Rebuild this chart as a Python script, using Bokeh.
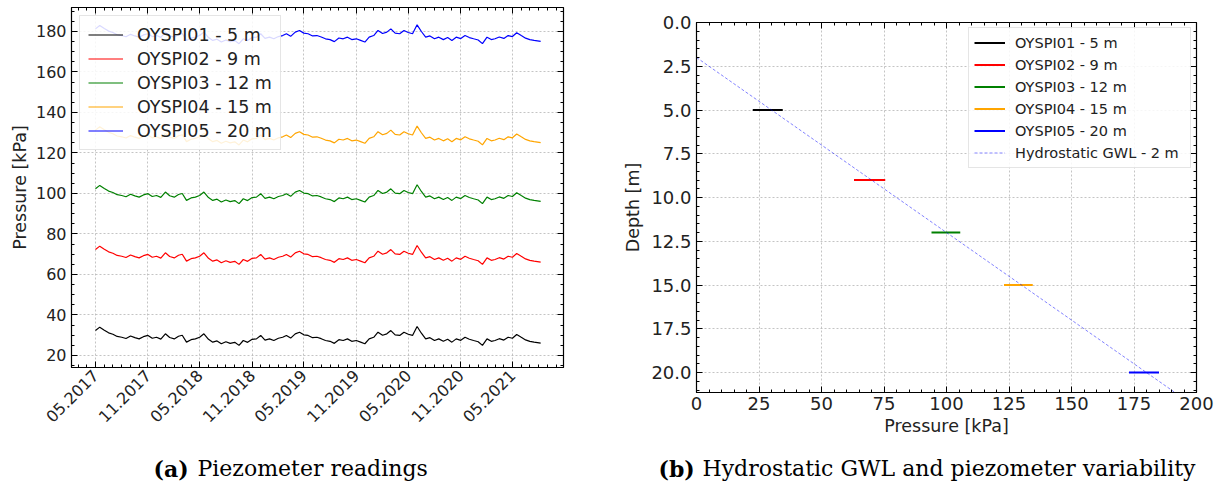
import math
from datetime import datetime
from bokeh.plotting import figure
from bokeh.models import (Range1d, FixedTicker, DatetimeTickFormatter, LinearAxis,
                          Label, PrintfTickFormatter)
from bokeh.layouts import row, column
from bokeh.embed import file_html
from bokeh.resources import INLINE

# ---------------- data ----------------
# semi-monthly readings (1st and 16th of each month), May 2017 - Aug 2021
sample_dates = []
for k in range(51):
    yy = 2017 + (4 + k) // 12
    mm = (4 + k) % 12 + 1
    sample_dates.append(datetime(yy, mm, 1))
    sample_dates.append(datetime(yy, mm, 16))
sample_dates.append(datetime(2021, 8, 8))

oyspi01 = [32.3, 34.0, 32.5, 31.2, 30.5, 29.4, 29.0, 28.4, 29.6, 28.8, 28.2, 29.3, 29.9, 28.5,
           29.0, 28.1, 30.7, 28.9, 28.2, 29.5, 30.0, 26.6, 27.8, 28.2, 29.0, 30.7, 28.0, 26.6,
           27.2, 25.8, 26.8, 26.0, 26.5, 25.0, 27.4, 26.5, 28.0, 28.2, 29.9, 27.6, 28.2, 27.4,
           28.5, 29.0, 29.9, 28.6, 30.7, 31.5, 30.2, 29.9, 28.8, 29.0, 28.3, 27.4, 27.0, 26.0,
           27.8, 27.4, 28.2, 27.0, 27.4, 26.6, 25.8, 28.2, 29.0, 31.5, 30.0, 30.7, 32.3, 30.2,
           29.9, 31.5, 30.5, 29.9, 34.3, 31.0, 28.2, 28.8, 27.4, 28.2, 27.0, 28.0, 26.6, 28.2,
           27.5, 29.0, 28.0, 27.4, 26.8, 25.0, 28.2, 27.0, 27.4, 28.3, 27.6, 29.0, 28.5, 30.4,
           29.0, 27.7, 27.0, 26.6, 26.1]
oyspi02 = [72.3, 74.0, 72.5, 71.2, 70.5, 69.4, 69.0, 68.4, 69.6, 68.8, 68.2, 69.3, 69.9, 68.5,
           69.0, 68.1, 70.7, 68.9, 68.2, 69.5, 70.0, 66.6, 67.8, 68.2, 69.0, 70.7, 68.0, 66.6,
           67.2, 65.8, 66.8, 66.0, 66.5, 65.0, 67.4, 66.5, 68.0, 68.2, 69.9, 67.6, 68.2, 67.4,
           68.5, 69.0, 69.9, 68.6, 70.7, 71.5, 70.2, 69.9, 68.8, 69.0, 68.3, 67.4, 67.0, 66.0,
           67.8, 67.4, 68.2, 67.0, 67.4, 66.6, 65.8, 68.2, 69.0, 71.5, 70.0, 70.7, 72.3, 70.2,
           69.9, 71.5, 70.5, 69.9, 74.3, 71.0, 68.2, 68.8, 67.4, 68.2, 67.0, 68.0, 66.6, 68.2,
           67.5, 69.0, 68.0, 67.4, 66.8, 65.0, 68.2, 67.0, 67.4, 68.3, 67.6, 69.0, 68.5, 70.4,
           69.0, 67.7, 67.0, 66.6, 66.1]
oyspi03 = [102.3, 104.0, 102.5, 101.2, 100.5, 99.4, 99.0, 98.4, 99.6, 98.8, 98.2, 99.3, 99.9, 98.5,
           99.0, 98.1, 100.7, 98.9, 98.2, 99.5, 100.0, 96.6, 97.8, 98.2, 99.0, 100.7, 98.0, 96.6,
           97.2, 95.8, 96.8, 96.0, 96.5, 95.0, 97.4, 96.5, 98.0, 98.2, 99.9, 97.6, 98.2, 97.4,
           98.5, 99.0, 99.9, 98.6, 100.7, 101.5, 100.2, 99.9, 98.8, 99.0, 98.3, 97.4, 97.0, 96.0,
           97.8, 97.4, 98.2, 97.0, 97.4, 96.6, 95.8, 98.2, 99.0, 101.5, 100.0, 100.7, 102.3, 100.2,
           99.9, 101.5, 100.5, 99.9, 104.3, 101.0, 98.2, 98.8, 97.4, 98.2, 97.0, 98.0, 96.6, 98.2,
           97.5, 99.0, 98.0, 97.4, 96.8, 95.0, 98.2, 97.0, 97.4, 98.3, 97.6, 99.0, 98.5, 100.4,
           99.0, 97.7, 97.0, 96.6, 96.1]
oyspi04 = [131.3, 133.0, 131.5, 130.2, 129.5, 128.4, 128.0, 127.4, 128.6, 127.8, 127.2, 128.3, 128.9, 127.5,
           128.0, 127.1, 129.7, 127.9, 127.2, 128.5, 129.0, 125.6, 126.8, 127.2, 128.0, 129.7, 127.0, 125.6,
           126.2, 124.8, 125.8, 125.0, 125.5, 124.0, 126.4, 125.5, 127.0, 127.2, 128.9, 126.6, 127.2, 126.4,
           127.5, 128.0, 128.9, 127.6, 129.7, 130.5, 129.2, 128.9, 127.8, 128.0, 127.3, 126.4, 126.0, 125.0,
           126.8, 126.4, 127.2, 126.0, 126.4, 125.6, 124.8, 127.2, 128.0, 130.5, 129.0, 129.7, 131.3, 129.2,
           128.9, 130.5, 129.5, 128.9, 133.3, 130.0, 127.2, 127.8, 126.4, 127.2, 126.0, 127.0, 125.6, 127.2,
           126.5, 128.0, 127.0, 126.4, 125.8, 124.0, 127.2, 126.0, 126.4, 127.3, 126.6, 128.0, 127.5, 129.4,
           128.0, 126.7, 126.0, 125.6, 125.1]
oyspi05 = [181.3, 183.0, 181.5, 180.2, 179.5, 178.4, 178.0, 177.4, 178.6, 177.8, 177.2, 178.3, 178.9, 177.5,
           178.0, 177.1, 179.7, 177.9, 177.2, 178.5, 179.0, 175.6, 176.8, 177.2, 178.0, 179.7, 177.0, 175.6,
           176.2, 174.8, 175.8, 175.0, 175.5, 174.0, 176.4, 175.5, 177.0, 177.2, 178.9, 176.6, 177.2, 176.4,
           177.5, 178.0, 178.9, 177.6, 179.7, 180.5, 179.2, 178.9, 177.8, 178.0, 177.3, 176.4, 176.0, 175.0,
           176.8, 176.4, 177.2, 176.0, 176.4, 175.6, 174.8, 177.2, 178.0, 180.5, 179.0, 179.7, 181.3, 179.2,
           178.9, 180.5, 179.5, 178.9, 183.3, 180.0, 177.2, 177.8, 176.4, 177.2, 176.0, 177.0, 175.6, 177.2,
           176.5, 178.0, 177.0, 176.4, 175.8, 174.0, 177.2, 176.0, 176.4, 177.3, 176.6, 178.0, 177.5, 179.4,
           178.0, 176.7, 176.0, 175.6, 175.1]

series_names = ["OYSPI01 - 5 m", "OYSPI02 - 9 m", "OYSPI03 - 12 m", "OYSPI04 - 15 m", "OYSPI05 - 20 m"]
series_colors = ["black", "red", "green", "orange", "blue"]
series_values = [oyspi01, oyspi02, oyspi03, oyspi04, oyspi05]

# right panel: piezometer depth and pressure range
piezo_depth = [5, 9, 12, 15, 20]
piezo_pmin = [22.5, 63.0, 94.0, 123.0, 173.0]
piezo_pmax = [34.5, 75.5, 105.5, 134.5, 185.0]
gwl_depth = 2.0
gamma_w = 10.0
hydro_depth = [2.0, 22.0]
hydro_pressure = [gamma_w * (d - gwl_depth) for d in hydro_depth]

time_ticks = [datetime(y, m, 1) for y in range(2017, 2022) for m in (5, 11) if not (y == 2021 and m == 11)]

caption_a = ("(a)", "Piezometer readings")
caption_b = ("(b)", "Hydrostatic GWL and piezometer variability")

# ---------------- style helpers ----------------
FONT = "DejaVu Sans"
TXT = "#222222"


def ms(d):
    return (d - datetime(1970, 1, 1)).total_seconds() * 1000.0


def style_axis(ax, tick_px="16px", label_px="17.5px", show_labels=True):
    ax.major_tick_in = 6
    ax.major_tick_out = 0
    ax.minor_tick_in = 3
    ax.minor_tick_out = 0
    ax.major_tick_line_color = "black"
    ax.minor_tick_line_color = "black"
    ax.axis_line_color = "black"
    ax.major_label_text_font = FONT
    ax.major_label_text_color = TXT
    ax.major_label_text_font_size = tick_px
    ax.axis_label_text_font = FONT
    ax.axis_label_text_font_style = "normal"
    ax.axis_label_text_color = TXT
    ax.axis_label_text_font_size = label_px
    if not show_labels:
        ax.major_label_text_font_size = "1px"
        ax.major_label_standoff = 0
        ax.major_label_text_alpha = 0


def style_grid(p):
    for g in (p.xgrid, p.ygrid):
        g.grid_line_color = "#b5b5b5"
        g.grid_line_dash = "2 2"
        g.grid_line_width = 0.8
    p.outline_line_color = "black"
    p.outline_line_width = 1.2
    p.outline_line_alpha = 1.0


# ---------------- left panel ----------------
x1_start, x1_end = ms(datetime(2017, 2, 6)), ms(datetime(2021, 10, 27))
y1_start, y1_end = 14.07, 191.85
p1 = figure(frame_width=492, frame_height=360, x_axis_type="datetime", output_backend="svg",
            toolbar_location=None,
            x_range=Range1d(x1_start, x1_end), y_range=Range1d(y1_start, y1_end),
            min_border_left=71, min_border_right=48, min_border_top=7, min_border_bottom=85)
p1.title_location = None
p1.background_fill_color = "white"
p1.border_fill_color = "white"

month_minor = [ms(datetime(2017 + (1 + k) // 12, (1 + k) % 12 + 1, 1)) for k in range(58)]
xt = FixedTicker(ticks=[ms(d) for d in time_ticks], minor_ticks=month_minor)
yt = FixedTicker(ticks=list(range(20, 181, 20)), minor_ticks=list(range(15, 195, 5)))
fmt = DatetimeTickFormatter(days="%m.%Y", months="%m.%Y", years="%m.%Y", hours="%m.%Y")

p1.xaxis[0].ticker = xt
p1.xaxis[0].formatter = fmt
p1.xaxis[0].major_label_orientation = math.pi / 4
p1.yaxis[0].ticker = yt
p1.yaxis[0].axis_label = "Pressure [kPa]"
p1.yaxis[0].axis_label_standoff = 3
p1.xgrid.ticker = xt
p1.ygrid.ticker = yt
style_axis(p1.xaxis[0])
style_axis(p1.yaxis[0])
top1 = LinearAxis(ticker=xt, fixed_location=y1_end)
right1 = LinearAxis(ticker=yt, fixed_location=x1_end)
style_axis(top1, show_labels=False)
style_axis(right1, show_labels=False)
p1.add_layout(top1, "above")
p1.add_layout(right1, "right")
style_grid(p1)

for name, col, vals in zip(series_names, series_colors, series_values):
    p1.line(sample_dates, vals, line_color=col, line_width=1.2, legend_label=name)

lg = p1.legend[0]
lg.location = "top_left"
lg.margin = 8
lg.padding = 8
lg.spacing = 3
lg.label_text_font = FONT
lg.label_text_font_size = "17.5px"
lg.label_text_color = TXT
lg.glyph_width = 35
lg.glyph_height = 21
lg.label_height = 21
lg.label_width = 134
lg.label_standoff = 14
lg.border_line_color = "#cccccc"
lg.border_line_width = 1
lg.background_fill_alpha = 0.85

# ---------------- right panel ----------------
# same top/bottom borders as the left panel (the row aligns them); the frame is
# moved down to its own position with a CSS margin
p2 = figure(frame_width=500, frame_height=370, output_backend="svg", toolbar_location=None,
            x_range=Range1d(0, 200), y_range=Range1d(21.14, 0),
            min_border_left=85, min_border_right=26, min_border_top=7, min_border_bottom=85)
p2.title_location = None
p2.styles = {"margin-top": "15px", "margin-bottom": "-25px"}
p2.background_fill_color = "white"
p2.border_fill_color = "white"
xt2 = FixedTicker(ticks=list(range(0, 201, 25)), minor_ticks=list(range(0, 201, 5)))
yt2 = FixedTicker(ticks=[i * 2.5 for i in range(9)], minor_ticks=[i * 0.5 for i in range(43)])
p2.xaxis[0].ticker = xt2
p2.yaxis[0].ticker = yt2
p2.yaxis[0].formatter = PrintfTickFormatter(format="%.1f")
p2.xaxis[0].axis_label = "Pressure [kPa]"
p2.yaxis[0].axis_label = "Depth [m]"
p2.xgrid.ticker = xt2
p2.ygrid.ticker = yt2
style_axis(p2.xaxis[0], tick_px="18px", label_px="17.5px")
style_axis(p2.yaxis[0], tick_px="18px", label_px="17.5px")
p2.xaxis[0].major_label_standoff = 4
p2.xaxis[0].axis_label_standoff = 3
p2.yaxis[0].axis_label_standoff = 5
top2 = LinearAxis(ticker=xt2, fixed_location=0)
right2 = LinearAxis(ticker=yt2, fixed_location=200)
style_axis(top2, show_labels=False)
style_axis(right2, show_labels=False)
p2.add_layout(top2, "above")
p2.add_layout(right2, "right")
style_grid(p2)

for name, col, d, a, b in zip(series_names, series_colors, piezo_depth, piezo_pmin, piezo_pmax):
    p2.segment(x0=[a], y0=[d], x1=[b], y1=[d], line_color=col, line_width=2, legend_label=name)
p2.line(hydro_pressure, hydro_depth, line_color="blue", line_alpha=0.55, line_width=0.9,
        line_dash="3 2", legend_label="Hydrostatic GWL - 2 m")

lg2 = p2.legend[0]
lg2.location = "top_right"
lg2.margin = 5
lg2.padding = 5
lg2.spacing = 3
lg2.label_text_font = FONT
lg2.label_text_font_size = "14.5px"
lg2.label_text_color = TXT
lg2.glyph_width = 31
lg2.glyph_height = 19
lg2.label_height = 19
lg2.label_width = 170
lg2.label_standoff = 10
lg2.border_line_color = "#cccccc"
lg2.background_fill_alpha = 0.85


# ---------------- captions (separate strips under each panel) ----------------
def caption_strip(tag, text, x_tag, x_text):
    c = figure(width=611, height=30, output_backend="svg", toolbar_location=None,
               x_axis_type=None, y_axis_type=None, min_border=0,
               x_range=Range1d(0, 1), y_range=Range1d(0, 1))
    c.title_location = None
    c.outline_line_color = None
    c.grid.visible = False
    c.add_layout(Label(x=x_tag, y=14, x_units="screen", y_units="screen", text=tag,
                       text_font="DejaVu Serif", text_font_style="bold", text_font_size="22px",
                       text_color="black", text_baseline="alphabetic"))
    c.add_layout(Label(x=x_text, y=14, x_units="screen", y_units="screen", text=text,
                       text_font="DejaVu Serif", text_font_size="22px",
                       text_color="black", text_baseline="alphabetic"))
    return c


c1 = caption_strip(caption_a[0], caption_a[1], 153, 197)
c2 = caption_strip(caption_b[0], caption_b[1], 47, 91)

layout = column(row(p1, p2), row(c1, c2))
open("out.html", "w").write(file_html(layout, INLINE))
